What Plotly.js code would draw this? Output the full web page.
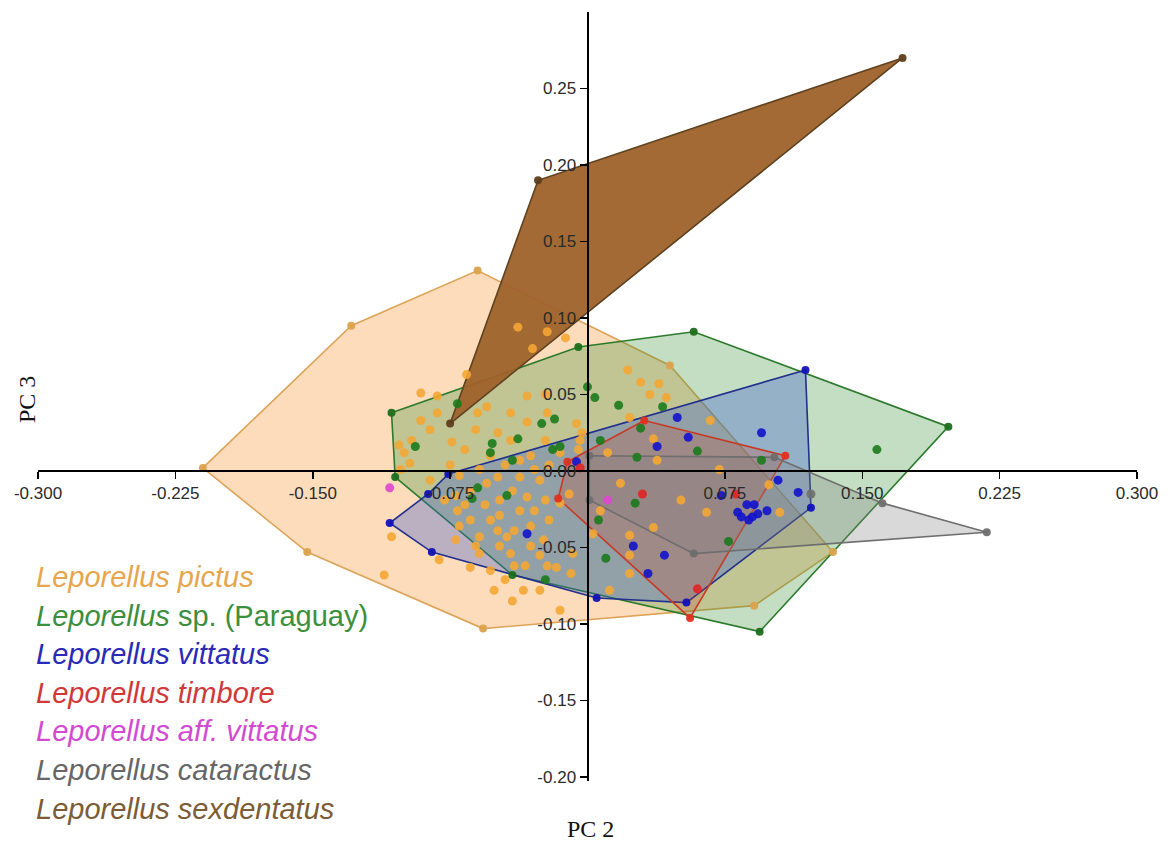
<!DOCTYPE html>
<html>
<head>
<meta charset="utf-8">
<script src="https://cdn.plot.ly/plotly-3.0.1.min.js"></script>
<style>html,body{margin:0;padding:0;background:#fff;}#chart{width:1170px;height:845px;}</style>
</head>
<body>
<div id="chart"></div>
<script>
// ---------- DATA (PC 2 = x, PC 3 = y) ----------
const species = ["Leporellus pictus","Leporellus sp. (Paraguay)","Leporellus vittatus","Leporellus timbore","Leporellus aff. vittatus","Leporellus cataractus","Leporellus sexdentatus"];
const legendLabels = ["<i>Leporellus pictus</i>","<i>Leporellus</i> sp. (Paraguay)","<i>Leporellus vittatus</i>","<i>Leporellus timbore</i>","<i>Leporellus aff. vittatus</i>","<i>Leporellus cataractus</i>","<i>Leporellus sexdentatus</i>"];

const xTickVals = [-0.3,-0.225,-0.15,-0.075,0.075,0.15,0.225,0.3];
const xTickText = ["-0.300","-0.225","-0.150","-0.075","0.075","0.150","0.225","0.300"];
const yTickVals = [-0.2,-0.15,-0.1,-0.05,0,0.05,0.1,0.15,0.2,0.25];
const yTickText = ["-0.20","-0.15","-0.10","-0.05","0.00","0.05","0.10","0.15","0.20","0.25"];

// convex hull vertices
const pictusHullX = [-0.210,-0.129,-0.060,0.045,0.134,0.091,-0.057,-0.153];
const pictusHullY = [0.002,0.095,0.131,0.069,-0.053,-0.088,-0.103,-0.053];
const paraguayHullX = [-0.107,-0.005,0.058,0.197,0.094,-0.041,-0.105];
const paraguayHullY = [0.038,0.081,0.091,0.029,-0.105,-0.068,-0.004];
const vittatusHullX = [-0.076,0.119,0.122,0.054,0.005,-0.085,-0.108,-0.087];
const vittatusHullY = [-0.002,0.066,-0.024,-0.086,-0.083,-0.053,-0.034,-0.015];
const timboreHullX = [0.031,0.108,0.056,-0.016,-0.011];
const timboreHullY = [0.033,0.010,-0.096,-0.018,0.006];
const cataractusHullX = [0.001,0.102,0.161,0.218,0.058,0.001];
const cataractusHullY = [0.010,0.009,-0.021,-0.040,-0.054,-0.019];
const sexdentatusHullX = [0.172,-0.027,-0.075];
const sexdentatusHullY = [0.270,0.190,0.031];

// remaining specimens (inside hulls)
const pictusX = [-0.038,-0.022,-0.012,-0.030,-0.066,-0.091,-0.082,-0.033,-0.055,-0.042,-0.022,-0.060,-0.082,-0.033,-0.049,-0.074,-0.067,-0.100,-0.097,-0.004,-0.006,-0.003,-0.037,-0.049,-0.055,-0.041,-0.033,-0.071,-0.037,-0.053,-0.049,-0.044,-0.059,-0.042,-0.008,-0.017,-0.010,-0.015,-0.107,-0.111,-0.035,-0.041,-0.015,-0.064,-0.053,-0.059,0.029,0.039,0.034,0.043,0.023,0.036,0.067,-0.015,-0.005,0.011,0.038,0.018,0.065,0.036,0.023,0.003,0.023,-0.009,0.023,-0.022,-0.024,0.022,0.105,0.099,-0.064,-0.048,-0.070,-0.061,-0.031,-0.026,-0.072,-0.026,-0.021,-0.086,-0.078,-0.045,-0.103,-0.053,-0.023,0.007,0.051,0.072,-0.081,0.012,
  -0.064,-0.056,-0.048,-0.040,-0.031,-0.023,-0.072,-0.067,-0.037,-0.029,-0.021,-0.045,-0.051,-0.034,-0.026,-0.059,-0.070,-0.040,-0.029,-0.048,-0.075,-0.061,-0.042,-0.031,-0.023,-0.086,-0.091,-0.096,-0.102];
const pictusY = [0.094,0.091,0.087,0.080,0.063,0.051,0.049,0.049,0.042,0.038,0.038,0.038,0.038,0.032,0.025,0.019,0.014,0.012,0.005,0.020,0.031,0.025,-0.004,-0.004,-0.008,-0.013,-0.017,-0.026,-0.026,-0.032,-0.039,-0.043,-0.043,-0.054,-0.054,-0.063,-0.015,-0.021,-0.043,-0.068,-0.078,-0.085,-0.091,-0.063,-0.065,-0.054,0.058,0.057,0.050,0.048,0.035,0.021,0.033,0.012,0.014,0.012,0.007,-0.008,-0.027,-0.037,-0.042,-0.041,-0.055,-0.067,-0.067,-0.062,-0.045,0.066,-0.027,-0.009,-0.013,-0.019,-0.036,-0.049,-0.036,-0.055,-0.016,-0.006,-0.032,-0.006,-0.019,0.004,0.017,0.010,0.050,-0.026,-0.019,0.001,-0.058,-0.078,
  -0.032,-0.022,-0.049,-0.062,-0.049,-0.019,-0.045,-0.022,0.007,0.001,0.004,-0.071,-0.078,-0.062,-0.078,0.001,-0.003,-0.039,-0.026,-0.029,0.004,0.027,0.020,0.010,0.020,0.027,0.033,0.020,0.001];
const paraguayX = [-0.071,-0.094,-0.052,-0.053,-0.038,-0.025,-0.018,-0.041,-0.019,0.000,0.004,-0.060,-0.063,-0.044,0.006,-0.023,0.017,0.041,0.029,0.007,0.027,0.060,0.026,0.010,0.077,0.095,0.158,-0.015];
const paraguayY = [0.044,0.016,0.018,0.012,0.021,0.031,0.034,0.007,0.014,0.055,0.048,-0.011,-0.018,-0.016,-0.032,-0.071,0.043,0.042,0.028,0.020,0.009,0.013,-0.021,-0.057,-0.046,0.007,0.014,0.016];
const vittatusX = [0.049,0.055,0.038,-0.006,-0.033,0.073,0.095,0.104,0.115,0.082,0.087,0.091,0.093,0.098,0.088,0.084,0.090,0.025,0.042,0.033];
const vittatusY = [0.035,0.022,0.016,0.006,-0.041,-0.016,0.025,-0.006,-0.014,-0.027,-0.022,-0.022,-0.028,-0.026,-0.032,-0.030,-0.030,-0.049,-0.055,-0.067];
const timboreX = [0.030,0.060,0.081,-0.004];
const timboreY = [-0.015,-0.077,-0.015,0.002];
const affVittatusX = [-0.108,0.011];
const affVittatusY = [-0.011,-0.019];
const cataractusX = [0.122];
const cataractusY = [-0.015];
const sexdentatusX = [];
const sexdentatusY = [];

// ---------- STYLE ----------
const hullX = [pictusHullX,paraguayHullX,vittatusHullX,timboreHullX,null,cataractusHullX,sexdentatusHullX];
const hullY = [pictusHullY,paraguayHullY,vittatusHullY,timboreHullY,null,cataractusHullY,sexdentatusHullY];
const ptsX = [pictusX,paraguayX,vittatusX,timboreX,affVittatusX,cataractusX,sexdentatusX];
const ptsY = [pictusY,paraguayY,vittatusY,timboreY,affVittatusY,cataractusY,sexdentatusY];
const fillColors = ["rgba(250,168,85,0.40)","rgba(55,145,55,0.30)","rgba(60,95,205,0.35)","rgba(205,70,45,0.25)",null,"rgba(130,130,130,0.30)","rgba(158,98,42,0.95)"];
const lineColors = ["#dca458","#2b7a2b","#22308c","#c63b26",null,"#6e6e6e","#5e4220"];
const markerColors = ["#f4a634","#1c7a1c","#1212cc","#e02424","#e046d2","#6e6e6e","#6b4520"];
const vertexColors = ["#dba24e","#1c6e1c","#1212b8","#e0301e",null,"#6e6e6e","#5e3e1c"];
const textColors = ["#e6a64e","#3c8f3c","#2a2ab8","#d0383a","#d24ad2","#666666","#7c5c34"];

const traces = [];
// filled hulls
for (let i = 0; i < species.length; i++) {
  if (!hullX[i]) continue;
  traces.push({
    type: "scatter", mode: "lines", name: species[i],
    x: hullX[i].concat([hullX[i][0]]), y: hullY[i].concat([hullY[i][0]]),
    fill: "toself", fillcolor: fillColors[i],
    line: {color: lineColors[i], width: 1.6},
    hoverinfo: "skip", showlegend: false
  });
}
// specimen points
for (let i = 0; i < species.length; i++) {
  if (ptsX[i].length) {
    traces.push({
      type: "scatter", mode: "markers", name: species[i],
      x: ptsX[i], y: ptsY[i],
      marker: {color: markerColors[i], size: 9, opacity: 0.9},
      showlegend: false
    });
  }
  if (hullX[i]) {
    traces.push({
      type: "scatter", mode: "markers", name: species[i],
      x: hullX[i], y: hullY[i],
      marker: {color: vertexColors[i], size: 8, opacity: 0.95},
      showlegend: false
    });
  }
}

// ---------- LAYOUT ----------
const W = 1170, H = 845, mL = 38, mR = 33, mT = 12, mB = 64;
const yMax = 0.300, pxPerUnitY = 1530;
const plotH = H - mT - mB, plotW = W - mL - mR;
const yMin = yMax - plotH / pxPerUnitY;
const xAxisPos = (0 - yMin) / (yMax - yMin);

const paperX = px => (px - mL) / plotW;
const paperY = py => (H - mB - py) / plotH;

const annotations = [];
for (let i = 0; i < legendLabels.length; i++) {
  annotations.push({
    xref: "paper", yref: "paper", x: paperX(34), y: paperY(577 + i * 38.6),
    xanchor: "left", yanchor: "middle", showarrow: false,
    text: legendLabels[i],
    font: {family: "Liberation Sans, Arial, sans-serif", size: 29, color: textColors[i]}
  });
}
annotations.push({xref: "paper", yref: "paper", x: paperX(590), y: paperY(829), xanchor: "center", yanchor: "middle", showarrow: false,
  text: "PC 2", font: {family: "Liberation Serif, Times New Roman, serif", size: 24, color: "#111"}});
annotations.push({xref: "paper", yref: "paper", x: paperX(27), y: paperY(400), xanchor: "center", yanchor: "middle", showarrow: false, textangle: -90,
  text: "PC 3", font: {family: "Liberation Serif, Times New Roman, serif", size: 24, color: "#111"}});

const layout = {
  width: W, height: H,
  margin: {l: mL, r: mR, t: mT, b: mB, pad: 0},
  paper_bgcolor: "#ffffff", plot_bgcolor: "#ffffff",
  showlegend: false,
  xaxis: {
    range: [-0.3, 0.3], anchor: "free", position: xAxisPos,
    showline: true, linecolor: "#000", linewidth: 2,
    showgrid: false, zeroline: false,
    ticks: "outside", ticklen: 7, tickwidth: 1.5, tickcolor: "#000",
    tickmode: "array", tickvals: xTickVals, ticktext: xTickText,
    tickfont: {family: "Liberation Sans, Arial, sans-serif", size: 17, color: "#2a2a2a"}
  },
  yaxis: {
    range: [yMin, yMax], anchor: "free", position: 0.5,
    showline: true, linecolor: "#000", linewidth: 2,
    showgrid: false, zeroline: false,
    ticks: "outside", ticklen: 7, tickwidth: 1.5, tickcolor: "#000",
    tickmode: "array", tickvals: yTickVals, ticktext: yTickText,
    tickfont: {family: "Liberation Sans, Arial, sans-serif", size: 17, color: "#2a2a2a"}
  },
  annotations: annotations
};

Plotly.newPlot("chart", traces, layout, {displayModeBar: false, staticPlot: true});
</script>
</body>
</html>
